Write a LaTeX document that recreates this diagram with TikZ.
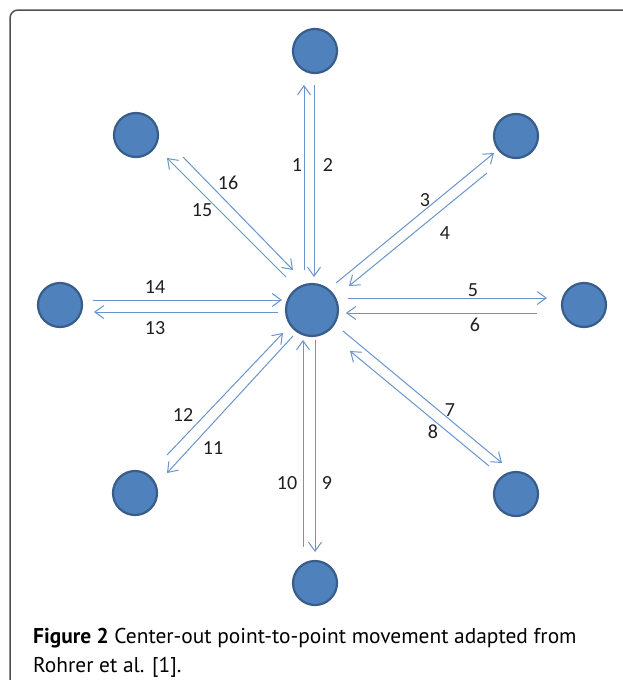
\documentclass[tikz,border=0pt]{standalone}
\usepackage{fontspec}
\setmainfont{Carlito}
\newfontfamily\capfont{PT Sans}
\usetikzlibrary{arrows.meta}
\definecolor{dotfill}{RGB}{79,129,189}
\definecolor{dotedge}{RGB}{56,93,138}
\definecolor{arrowblue}{RGB}{105,148,205}
\definecolor{framegray}{RGB}{80,80,80}
\begin{document}
\begin{tikzpicture}[x=1pt,y=-1pt,
  dot/.style={circle,fill=dotfill,draw=dotedge,line width=2.2pt,minimum size=44pt,inner sep=0pt},
  bigdot/.style={dot,minimum size=52pt},
  move/.style={draw=arrowblue,line width=1pt,-{Straight Barb[length=9pt,width=13pt,line width=1pt]}},
  lab/.style={font=\fontsize{20}{20}\selectfont,text=black!88,inner sep=0pt},
  capline/.style={anchor=base west,inner sep=0pt,font=\capfont\fontsize{21.4}{26}\selectfont}]
\useasboundingbox (0,0) rectangle (622,680);
\fill[white] (0,0) rectangle (622,680);
\draw[framegray,line width=1.5pt,rounded corners=8pt] (10,682) -- (10,10) -- (624,10);

% targets
\node[bigdot] (c) at (312,310) {};
\node[dot] (t) at (315,51) {};
\node[dot] (tl) at (136,135) {};
\node[dot] (tr) at (516,136) {};
\node[dot] (l) at (60,305) {};
\node[dot] (r) at (584,305) {};
\node[dot] (bl) at (135,493) {};
\node[dot] (br) at (516,494) {};
\node[dot] (b) at (315,583) {};

% arrow end points
\coordinate (m1s) at (304,270); \coordinate (m1e) at (304,85);
\coordinate (m2s) at (314,85);  \coordinate (m2e) at (314,277);
\coordinate (m3s) at (336,283); \coordinate (m3e) at (494,153);
\coordinate (m4s) at (487,173); \coordinate (m4e) at (349,286);
\coordinate (m5s) at (348,298); \coordinate (m5e) at (547,298);
\coordinate (m6s) at (537,313); \coordinate (m6e) at (346,313);
\coordinate (m7s) at (343,331); \coordinate (m7e) at (502,463);
\coordinate (m8s) at (489,466); \coordinate (m8e) at (350,351);
\coordinate (m9s) at (315,340); \coordinate (m9e) at (315,552);
\coordinate (m10s) at (303,547); \coordinate (m10e) at (303,340);
\coordinate (m11s) at (293,336); \coordinate (m11e) at (167,473);
\coordinate (m12s) at (167,455); \coordinate (m12e) at (283,333);
\coordinate (m13s) at (278,312); \coordinate (m13e) at (94,312);
\coordinate (m14s) at (93,300);  \coordinate (m14e) at (282,300);
\coordinate (m15s) at (286,277); \coordinate (m15e) at (167,158);
\coordinate (m16s) at (183,157); \coordinate (m16e) at (293,270);

\foreach \i in {1,...,16} {\draw[move] (m\i s) -- (m\i e);}

% labels
\node[lab] (n1) at (297,165) {1};
\node[lab] (n2) at (328,165) {2};
\node[lab] (n3) at (425,200) {3};
\node[lab] (n4) at (445,233) {4};
\node[lab] (n5) at (473,290) {5};
\node[lab] (n6) at (475,325) {6};
\node[lab] (n7) at (450,410) {7};
\node[lab] (n8) at (433,432) {8};
\node[lab] (n9) at (327,483) {9};
\node[lab] (n10) at (287,483) {10};
\node[lab] (n11) at (213,448) {11};
\node[lab] (n12) at (183,415) {12};
\node[lab] (n13) at (155,328) {13};
\node[lab] (n14) at (155,287) {14};
\node[lab] (n15) at (202,210) {15};
\node[lab] (n16) at (228,183) {16};

% caption
\node[capline] (cap1) at (33,643) {\textbf{Figure 2} Center-out point-to-point movement adapted from};
\node[capline] (cap2) at (33,672) {Rohrer et al. [1].};
\end{tikzpicture}
\end{document}
